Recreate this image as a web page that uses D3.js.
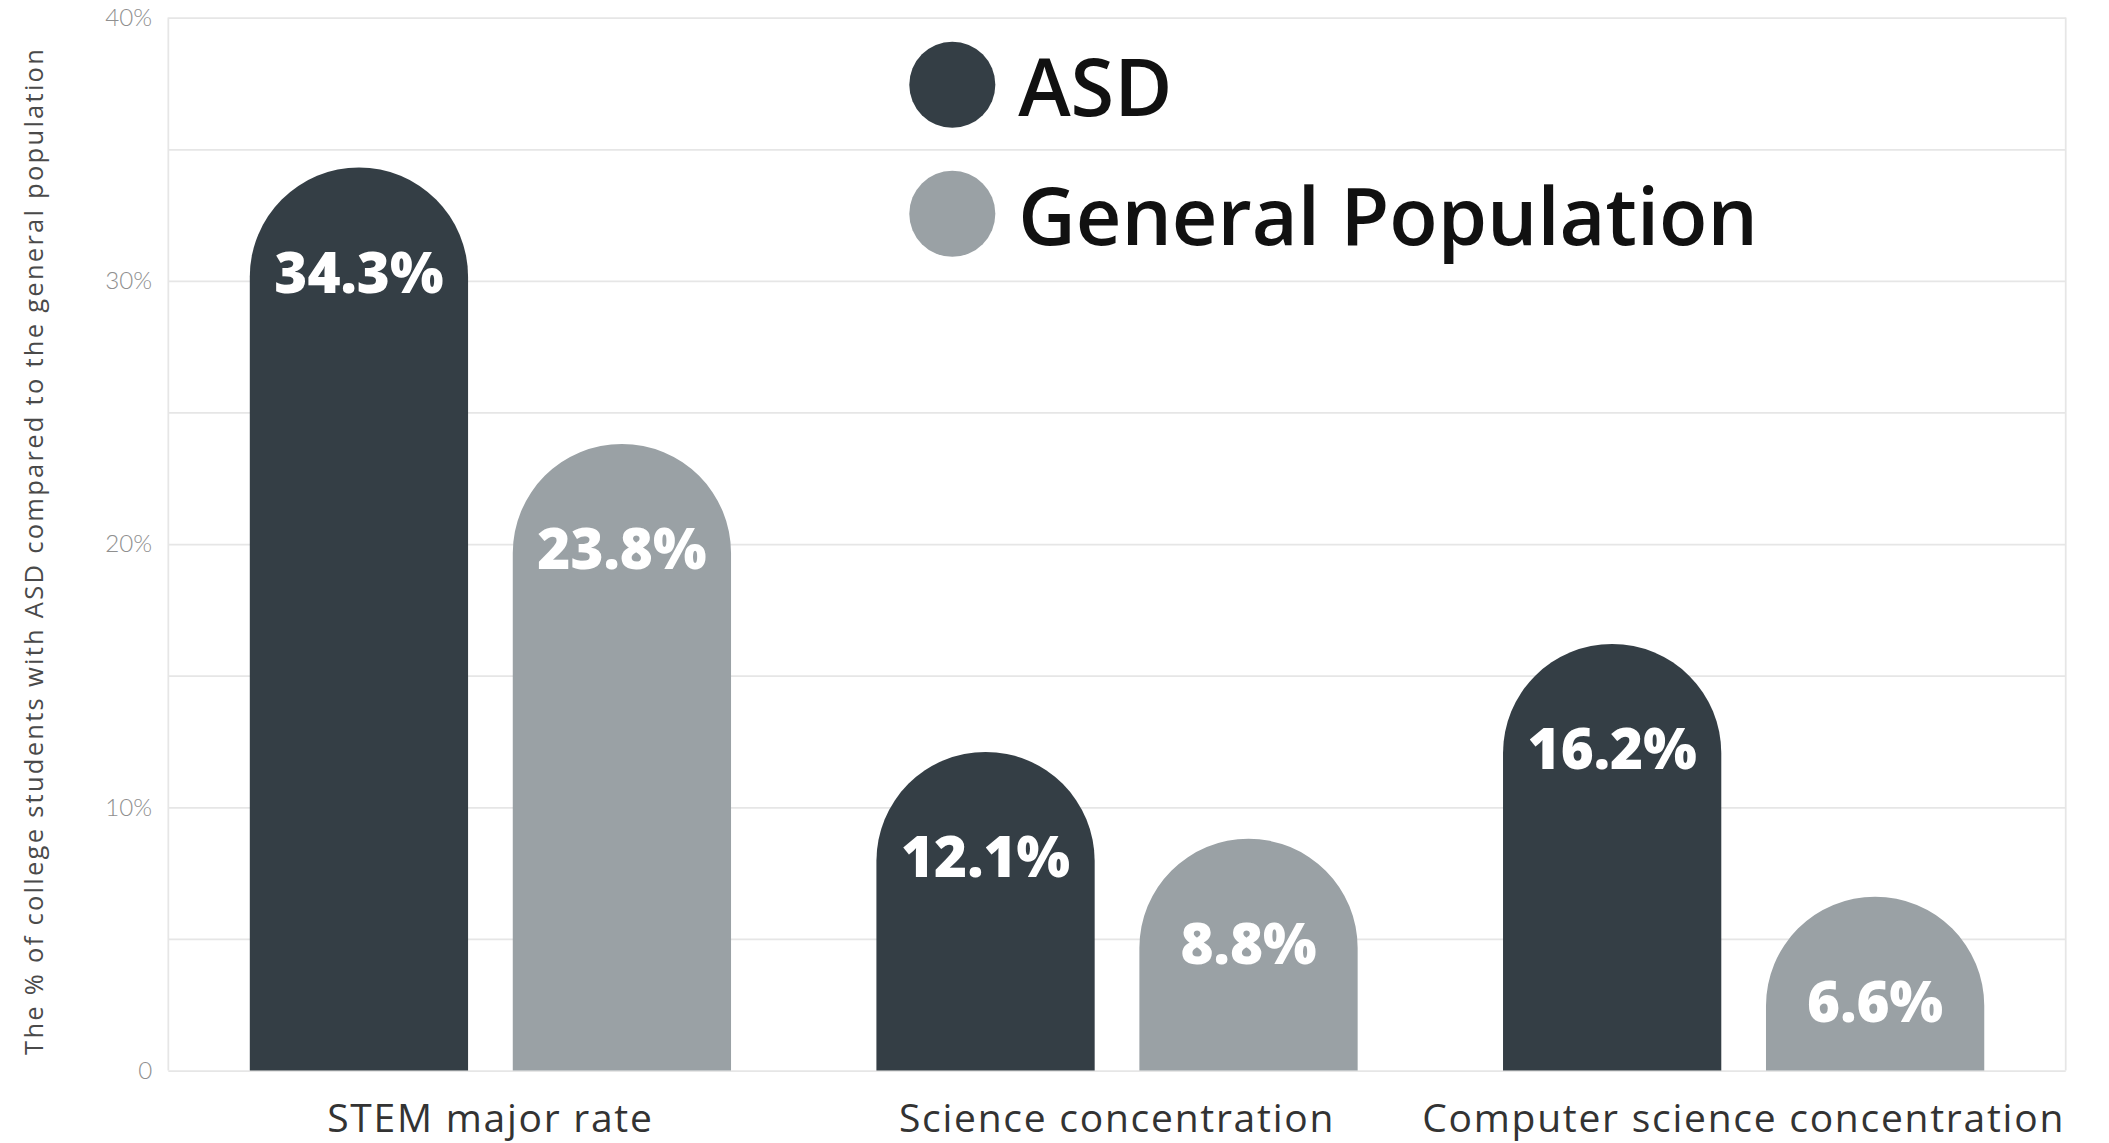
<!DOCTYPE html>
<html>
<head>
<meta charset="utf-8">
<script src="https://cdn.jsdelivr.net/npm/d3@7"></script>
<style>
  body { margin: 0; background: #fff; }
  text { font-family: "Open Sans", "Noto Sans", sans-serif; }
</style>
</head>
<body>
<div id="chart"></div>
<script>
// data
const categories = ["STEM major rate", "Science concentration", "Computer science concentration"];
const seriesNames = ["ASD", "General Population"];
const asdValues = [34.3, 12.1, 16.2];
const genPopValues = [23.8, 8.8, 6.6];
const gridValues = [0, 5, 10, 15, 20, 25, 30, 35, 40];
const tickValues = [0, 10, 20, 30, 40];
const tickLabels = ["0", "10%", "20%", "30%", "40%"];
const yTitle = "The % of college students with ASD compared to the general population";

const colors = { "ASD": "#343e45", "General Population": "#9aa1a5" };

// drawn in a 1568-wide space, scaled up to the window
const vw = 1568, vh = 850;
const margin = { top: 13, right: 32, bottom: 54, left: 125 };

const svg = d3.select("#chart")
  .append("svg")
  .attr("width", 2109)
  .attr("height", 1143)
  .attr("viewBox", `0 0 ${vw} ${vh}`);

const x0 = d3.scaleBand()
  .domain(categories)
  .range([margin.left, vw - margin.right])
  .paddingInner(0.232)
  .paddingOuter(0.13);

const x1 = d3.scaleBand()
  .domain(seriesNames)
  .range([0, x0.bandwidth()])
  .paddingInner(0.17);

const y = d3.scaleLinear()
  .domain([0, 40])
  .range([vh - margin.bottom, margin.top]);

// grid
svg.append("g")
  .attr("class", "grid")
  .attr("transform", `translate(${margin.left},0)`)
  .call(d3.axisLeft(y).tickValues(gridValues).tickSize(-(vw - margin.left - margin.right)).tickFormat(""))
  .call(g => g.select(".domain").remove())
  .call(g => g.selectAll("line").attr("stroke", "#e6e6e6").attr("stroke-width", 1.3));

// frame sides
svg.append("g").selectAll("line")
  .data([margin.left, vw - margin.right])
  .join("line")
  .attr("x1", d => d).attr("x2", d => d)
  .attr("y1", y(40)).attr("y2", y(0))
  .attr("stroke", "#e6e6e6").attr("stroke-width", 1.3);

// y tick labels
svg.append("g")
  .attr("transform", `translate(${margin.left},0)`)
  .call(d3.axisLeft(y).tickValues(tickValues).tickSize(0).tickPadding(12)
    .tickFormat((d, i) => tickLabels[i]))
  .call(g => g.select(".domain").remove())
  .call(g => g.selectAll("text")
    .attr("fill", "#8f8f8f")
    .style("font-size", "18px")
    .style("font-weight", 300)
    .style("font-family", "Lato, 'Open Sans', sans-serif"));

// y title
svg.append("text")
  .attr("transform", `translate(27, ${(y(0) + y(40)) / 2 + 6}) rotate(-90)`)
  .attr("text-anchor", "middle")
  .attr("dominant-baseline", "middle")
  .attr("fill", "#4a4a4a")
  .attr("textLength", 748)
  .attr("lengthAdjust", "spacing")
  .style("font-size", "19px")
  .text(yTitle);

// bars with round tops
const rows = categories.map((c, i) => ({
  cat: c,
  vals: [
    { key: "ASD", value: asdValues[i] },
    { key: "General Population", value: genPopValues[i] }
  ]
}));

function roundTop(xl, w, top, bottom) {
  const r = w / 2;
  return `M${xl},${bottom}L${xl},${top + r}A${r},${r} 0 0 1 ${xl + w},${top + r}L${xl + w},${bottom}Z`;
}

const groups = svg.append("g").selectAll("g")
  .data(rows)
  .join("g")
  .attr("transform", d => `translate(${x0(d.cat)},0)`);

groups.selectAll("path")
  .data(d => d.vals)
  .join("path")
  .attr("d", d => roundTop(x1(d.key), x1.bandwidth(), y(d.value), y(0)))
  .attr("fill", d => colors[d.key]);

groups.selectAll("text.val")
  .data(d => d.vals)
  .join("text")
  .attr("class", "val")
  .attr("x", d => x1(d.key) + x1.bandwidth() / 2)
  .attr("y", d => y(d.value) + x1.bandwidth() / 2 - 4)
  .attr("text-anchor", "middle")
  .attr("dominant-baseline", "central")
  .attr("fill", "#fff")
  .style("font-size", "42px")
  .style("font-weight", 800)
  .text(d => d.value + "%");

// category labels
svg.append("g").selectAll("text")
  .data(categories)
  .join("text")
  .attr("x", d => x0(d) + x0.bandwidth() / 2)
  .attr("y", vh - 8)
  .attr("text-anchor", "middle")
  .attr("fill", "#333")
  .style("font-size", "29px")
  .style("letter-spacing", "1.3px")
  .text(d => d);

// legend
const legend = svg.append("g")
  .attr("transform", "translate(708, 63)");

legend.selectAll("circle")
  .data(seriesNames)
  .join("circle")
  .attr("cx", 0)
  .attr("cy", (d, i) => i * 96)
  .attr("r", 32)
  .attr("fill", d => colors[d]);

legend.selectAll("text")
  .data(seriesNames)
  .join("text")
  .attr("x", 49)
  .attr("y", (d, i) => i * 96)
  .attr("dominant-baseline", "central")
  .attr("fill", "#111")
  .style("font-size", "59px")
  .style("font-weight", 600)
  .text(d => d);
</script>
</body>
</html>
